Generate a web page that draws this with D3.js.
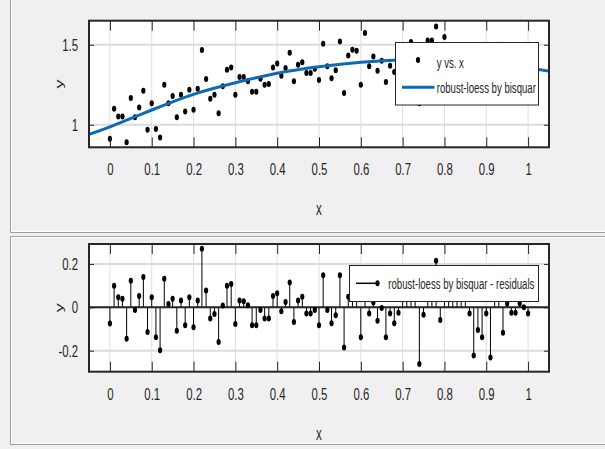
<!DOCTYPE html>
<html>
<head>
<meta charset="utf-8">
<script src="https://cdn.jsdelivr.net/npm/d3@7"></script>
<style>
  body { margin: 0; background: #f0f0f0; }
  svg { display: block; font-family: "Liberation Sans", Arial, sans-serif; }
</style>
</head>
<body>
<svg id="chart" width="605" height="449"></svg>
<script>
// tick labels
const xTicks = [0, 0.1, 0.2, 0.3, 0.4, 0.5, 0.6, 0.7, 0.8, 0.9, 1];
const yTopTicks = [1, 1.5];
const yBotTicks = [-0.2, 0, 0.2];

// data
const xData = [0, 0.01, 0.02, 0.03, 0.04, 0.05, 0.06, 0.07, 0.08, 0.09,
  0.1, 0.11, 0.12, 0.13, 0.14, 0.15, 0.16, 0.17, 0.18, 0.19,
  0.2, 0.21, 0.22, 0.23, 0.24, 0.25, 0.26, 0.27, 0.28, 0.29,
  0.3, 0.31, 0.32, 0.33, 0.34, 0.35, 0.36, 0.37, 0.38, 0.39,
  0.4, 0.41, 0.42, 0.43, 0.44, 0.45, 0.46, 0.47, 0.48, 0.49,
  0.5, 0.51, 0.52, 0.53, 0.54, 0.55, 0.56, 0.57, 0.58, 0.59,
  0.6, 0.61, 0.62, 0.63, 0.64, 0.65, 0.66, 0.67, 0.68, 0.69,
  0.7, 0.71, 0.72, 0.73, 0.74, 0.75, 0.76, 0.77, 0.78, 0.79,
  0.8, 0.81, 0.82, 0.83, 0.84, 0.85, 0.86, 0.87, 0.88, 0.89,
  0.9, 0.91, 0.92, 0.93, 0.94, 0.95, 0.96, 0.97, 0.98, 0.99, 1];

const yData = [0.913, 1.10, 1.052, 1.052, 0.89, 1.167, 1.046, 1.108, 1.213, 0.969,
  1.135, 0.973, 0.92, 1.25, 1.135, 1.18, 1.046, 1.188, 1.083, 1.219,
  1.094, 1.225, 1.467, 1.285, 1.163, 1.188, 1.071, 1.24, 1.344, 1.358,
  1.188, 1.298, 1.298, 1.271, 1.206, 1.206, 1.288, 1.25, 1.254, 1.358,
  1.383, 1.306, 1.354, 1.45, 1.271, 1.375, 1.39, 1.323, 1.323, 1.35,
  1.279, 1.506, 1.365, 1.29, 1.34, 1.52, 1.198, 1.433, 1.469, 1.463,
  1.25, 1.573, 1.365, 1.427, 1.338, 1.40, 1.267, 1.369, 1.33, 1.378,
  1.465, 1.456, 1.517, 1.487, 1.135, 1.373, 1.527, 1.527, 1.613, 1.345,
  1.548, 1.451, 1.47, 1.439, 1.487, 1.455, 1.365, 1.169, 1.284, 1.249,
  1.357, 1.152, 1.431, 1.50, 1.259, 1.391, 1.345, 1.342, 1.382, 1.36, 1.327];

const resid = [-0.075, 0.10, 0.046, 0.04, -0.145, 0.123, -0.012, 0.052, 0.14, -0.114,
  0.046, -0.138, -0.198, 0.132, 0.015, 0.04, -0.108, 0.031, -0.083, 0.046,
  -0.092, 0.031, 0.27, 0.077, -0.052, -0.031, -0.16, 0.008, 0.10, 0.108,
  -0.077, 0.031, 0.028, 0.009, -0.083, -0.083, -0.012, -0.052, -0.052, 0.052,
  0.065, -0.018, 0.025, 0.114, -0.068, 0.031, 0.049, -0.028, -0.028, -0.012,
  -0.083, 0.148, -0.012, -0.074, -0.037, 0.148, -0.185, 0.049, 0.079, 0.07,
  -0.138, 0.178, -0.028, 0.022, -0.062, -0.003, -0.138, -0.028, -0.074, -0.025,
  0.06, 0.05, 0.112, 0.08, -0.262, -0.034, 0.124, 0.124, 0.215, -0.058,
  0.148, 0.05, 0.07, 0.04, 0.09, 0.06, -0.028, -0.222, -0.105, -0.138,
  -0.028, -0.231, 0.05, 0.115, -0.117, 0.018, -0.025, -0.025, 0.018, 0.0, -0.028];

// fitted curve, sampled
const fitX = [-0.05, 0, 0.1, 0.2, 0.3, 0.4, 0.5, 0.6, 0.7, 0.8, 0.9, 1.0, 1.05];
const fitY = [0.94, 0.987, 1.092, 1.19, 1.262, 1.322, 1.362, 1.39, 1.405, 1.401, 1.385, 1.355, 1.335];

const svg = d3.select("#chart");
const SX = 0.64;          // horizontal squeeze of the text
const ink = "#262626";
const blue = "#0d6ab8";

// panel frames
function panelFrame(y0, h) {
  svg.append("rect").attr("x", 10.5).attr("y", y0 + 0.5)
    .attr("width", 640).attr("height", h)
    .attr("fill", "none").attr("stroke", "#a0a0a0");
  svg.append("rect").attr("x", 11.5).attr("y", y0 + 1.5)
    .attr("width", 640).attr("height", h - 2)
    .attr("fill", "none").attr("stroke", "#ffffff");
}
panelFrame(-6, 238);
panelFrame(236, 208);

const x = d3.scaleLinear().domain([-0.05, 1.05]).range([89, 549]);
const yTop = d3.scaleLinear().domain([0.859, 1.65]).range([147.3, 20.7]);
const yBot = d3.scaleLinear().domain([-0.297, 0.292]).range([371.7, 244]);

function setupAxes(y, yTicks) {
  const [x0, x1] = x.range();
  const [b, t] = y.range();
  const g = svg.append("g");

  g.append("rect").attr("x", x0).attr("y", t)
    .attr("width", x1 - x0).attr("height", b - t).attr("fill", "#ffffff");

  // grid
  g.append("g").selectAll("line").data(xTicks).join("line")
    .attr("x1", d => x(d)).attr("x2", d => x(d))
    .attr("y1", t).attr("y2", b)
    .attr("stroke", "#dedede").attr("stroke-width", 1);
  g.append("g").selectAll("line").data(yTicks).join("line")
    .attr("x1", x0).attr("x2", x1)
    .attr("y1", d => y(d)).attr("y2", d => y(d))
    .attr("stroke", "#dcdcdc").attr("stroke-width", 2);
  return g;
}

function finishAxes(y, yTicks) {
  const [x0, x1] = x.range();
  const [b, t] = y.range();
  const g = svg.append("g");

  const styleAxis = a => {
    a.select(".domain").remove();
    a.selectAll("line").attr("stroke", ink);
    a.selectAll("text").attr("fill", ink).style("font-size", "17px");
  };

  g.append("g").attr("transform", `translate(0,${b})`)
    .call(d3.axisBottom(x).tickValues(xTicks).tickSize(-10).tickSizeOuter(0)
      .tickPadding(16).tickFormat(d => String(d)))
    .call(styleAxis)
    .call(a => a.selectAll("text").attr("transform", `scale(${SX + 0.03},1)`));

  g.append("g").attr("transform", `translate(0,${t})`)
    .call(d3.axisTop(x).tickValues(xTicks).tickSize(-10).tickSizeOuter(0).tickFormat(""))
    .call(styleAxis);

  g.append("g").attr("transform", `translate(${x0},0)`)
    .call(d3.axisLeft(y).tickValues(yTicks).tickSize(-5).tickSizeOuter(0)
      .tickFormat(d => String(d)))
    .call(styleAxis)
    .call(a => a.selectAll("text").attr("x", 0)
      .attr("transform", `translate(-11,0) scale(${SX + 0.03},1)`));

  g.append("g").attr("transform", `translate(${x1},0)`)
    .call(d3.axisRight(y).tickValues(yTicks).tickSize(-5).tickSizeOuter(0).tickFormat(""))
    .call(styleAxis);

  g.append("rect").attr("x", x0).attr("y", t)
    .attr("width", x1 - x0).attr("height", b - t)
    .attr("fill", "none").attr("stroke", ink).attr("stroke-width", 2);

  // axis labels
  g.append("text")
    .attr("transform", `translate(${(x0 + x1) / 2},${b + 68}) scale(${SX},1)`)
    .attr("text-anchor", "middle").attr("fill", ink)
    .style("font-size", "18px").text("x");
  g.append("text")
    .attr("transform", `translate(${x0 - 26},${(t + b) / 2}) scale(${SX},1) rotate(-90)`)
    .attr("text-anchor", "middle").attr("fill", ink)
    .style("font-size", "18px").text("y");
}

function dots(g, xs, ys, y) {
  g.selectAll("ellipse.pt").data(xs).join("ellipse").attr("class", "pt")
    .attr("cx", d => x(d)).attr("cy", (d, i) => y(ys[i]))
    .attr("rx", 2.1).attr("ry", 3).attr("fill", "#000");
}

// ---- top: data and fit ----
const gTop = setupAxes(yTop, yTopTicks);
dots(gTop.append("g"), xData, yData, yTop);

const line = d3.line().x(d => x(d[0])).y(d => yTop(d[1])).curve(d3.curveNatural);
gTop.append("path")
  .datum(fitX.map((d, i) => [d, fitY[i]]))
  .attr("d", line).attr("fill", "none")
  .attr("stroke", blue).attr("stroke-width", 3);
finishAxes(yTop, yTopTicks);

// ---- bottom: residuals ----
const gBot = setupAxes(yBot, yBotTicks);
gBot.append("g").selectAll("line").data(xData).join("line")
  .attr("x1", d => x(d)).attr("x2", d => x(d))
  .attr("y1", yBot(0)).attr("y2", (d, i) => yBot(resid[i]))
  .attr("stroke", "#000").attr("stroke-width", 1);
gBot.append("line")
  .attr("x1", x.range()[0]).attr("x2", x.range()[1])
  .attr("y1", yBot(0)).attr("y2", yBot(0))
  .attr("stroke", ink).attr("stroke-width", 2);
dots(gBot.append("g"), xData, resid, yBot);
finishAxes(yBot, yBotTicks);

// ---- legends ----
function legendText(g, tx, ty, s) {
  g.append("text").attr("transform", `translate(${tx},${ty}) scale(${SX},1)`)
    .attr("fill", ink).style("font-size", "15px").text(s);
}

const lt = svg.append("g");
lt.append("rect").attr("x", 395.5).attr("y", 42.5).attr("width", 143).attr("height", 62.5)
  .attr("fill", "#fff").attr("stroke", ink).attr("stroke-width", 1);
lt.append("ellipse").attr("cx", 418).attr("cy", 60).attr("rx", 2.1).attr("ry", 3).attr("fill", "#000");
legendText(lt, 436.7, 68, "y vs. x");
lt.append("line").attr("x1", 402).attr("x2", 434.5).attr("y1", 87.3).attr("y2", 87.3)
  .attr("stroke", blue).attr("stroke-width", 3);
legendText(lt, 436.7, 93, "robust-loess by bisquar");

const lb = svg.append("g");
lb.append("rect").attr("x", 349.5).attr("y", 265.5).attr("width", 189).attr("height", 36)
  .attr("fill", "#fff").attr("stroke", ink).attr("stroke-width", 1);
lb.append("line").attr("x1", 356).attr("x2", 377.5).attr("y1", 283.3).attr("y2", 283.3)
  .attr("stroke", "#000").attr("stroke-width", 1.5);
lb.append("ellipse").attr("cx", 377.5).attr("cy", 283.3).attr("rx", 2.1).attr("ry", 3).attr("fill", "#000");
legendText(lb, 388.3, 289, "robust-loess by bisquar - residuals");
</script>
</body>
</html>
